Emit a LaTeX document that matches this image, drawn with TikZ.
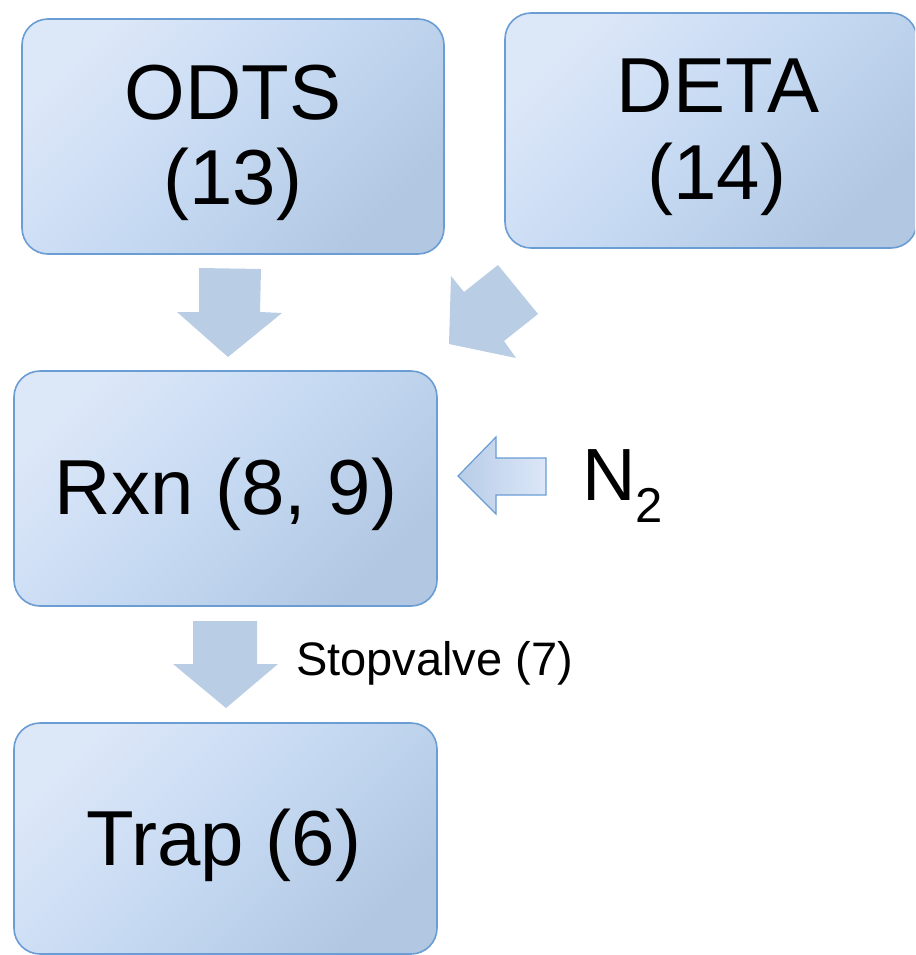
\documentclass[tikz,border=0pt]{standalone}
\usepackage{fontspec}
\setmainfont{Liberation Sans}
\definecolor{boxlight}{HTML}{DCE7F8}
\definecolor{boxmid}{HTML}{C5D9F2}
\definecolor{boxdark}{HTML}{B2C7E2}
\definecolor{boxline}{HTML}{6A9DD3}
\definecolor{arrowfill}{HTML}{B9CDE5}
\begin{document}
\begin{tikzpicture}[x=1pt,y=-1pt,
  flowbox/.style={draw=boxline, line width=1.6pt, rounded corners=26pt,
    top color=boxlight, bottom color=boxdark, middle color=boxmid, shading angle=45},
  bigtext/.style={inner sep=0pt, anchor=base, font=\fontsize{78}{78}\selectfont},
  smalltext/.style={inner sep=0pt, anchor=base west, font=\fontsize{47}{47}\selectfont},
  blockarrow/.style={fill=arrowfill, draw=none},
  n2arrow/.style={draw=boxline, line width=1.2pt, left color=boxdark!70!boxmid, right color=boxlight}]
\useasboundingbox (0,0) rectangle (915,955);
\begin{scope}
\clip (0,0) rectangle (915,955);
% boxes
\path[flowbox] (22,19) rectangle (444,254);
\path[flowbox] (505,13) rectangle (917,248);
\path[flowbox] (14,371) rectangle (437,606);
\path[flowbox] (14,723) rectangle (437,954);
\end{scope}
% texts
\node[bigtext] (odts1) at (233,120) {ODTS};
\node[bigtext] (odts2) at (233,204) {(13)};
\node[bigtext] (deta1) at (718,113) {DETA};
\node[bigtext] (deta2) at (717,199) {(14)};
\node[bigtext] (rxn) at (226,514) {Rxn (8, 9)};
\node[bigtext] (trap) at (224,865) {Trap (6)};
\node[inner sep=0pt, anchor=base west, font=\fontsize{74}{74}\selectfont] (n2) at (582,500)
  {N\raisebox{-22pt}{\fontsize{49}{49}\selectfont 2}};
\node[smalltext] (stopvalve) at (296,675) {Stopvalve (7)};
% block arrows
\path[blockarrow] (199,268) -- (261,269) -- (260,312) -- (282,313) -- (228,357) -- (177,312) -- (199,312) -- cycle;
\path[blockarrow] (498,265) -- (538,314) -- (504,341) -- (516,358) -- (449,344) -- (451,276) -- (464,292) -- cycle;
\path[blockarrow] (193,621) -- (257,621) -- (257,664) -- (278,664) -- (226,708) -- (173,664) -- (193,664) -- cycle;
\path[n2arrow] (458,476) -- (496,437) -- (496,458) -- (546,458) -- (546,495) -- (496,495) -- (496,514) -- cycle;
\end{tikzpicture}
\end{document}
